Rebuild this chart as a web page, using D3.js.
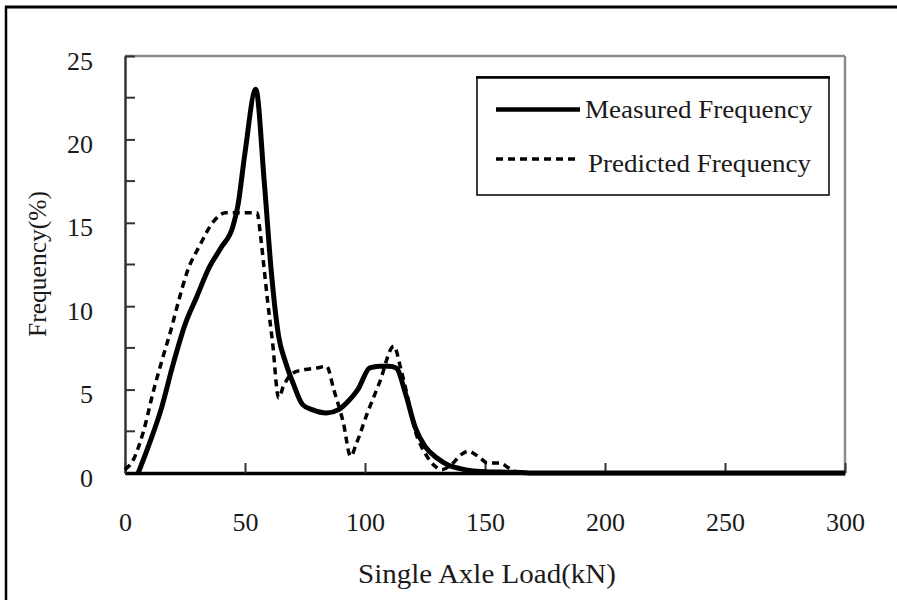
<!DOCTYPE html>
<html><head><meta charset="utf-8">
<script src="https://cdn.jsdelivr.net/npm/d3@7"></script>
<style>body{margin:0;background:#fff}svg{display:block}</style>
</head><body><svg id="c" width="897" height="600"></svg>
<script>
// ---- data ----
const measuredLoad = [5.5,10,15,20,25,30,35,40,45,47,50,54.5,58,61,64,67,70,74,78,84,89,93,97,102,106,110,113,117,121,125,130,135,140,145,150,160,165,170,200,250,300];
const measuredFreq = [0,1.7,3.8,6.5,8.9,10.6,12.3,13.5,14.8,16,19.2,23.0,17.5,12,8.2,6.6,5.4,4.1,3.8,3.6,3.8,4.3,5.0,6.3,6.4,6.4,6.3,4.7,2.7,1.6,0.9,0.45,0.25,0.12,0.08,0.05,0.03,0,0,0,0];
const predictedLoad = [0,3.5,7.5,12,15.5,19,22.5,26,31,37,42,48,55,56.5,58,59.5,61.5,64,66,70,75,80,84,87,91,94,96.5,101,106,112,115,118,121,125,128.5,132,136,140,143,148,151,156,160,165,200,250,300];
const predictedFreq = [0.2,0.8,2.4,5.0,6.8,8.5,10.4,12.1,13.6,15.1,15.6,15.6,15.6,14.2,12.2,10.2,7.8,4.5,5.2,6.0,6.2,6.3,6.4,5.0,3.0,1.0,1.8,3.6,5.4,7.6,6.2,4.4,2.5,1.2,0.5,0.2,0.5,1.1,1.3,0.9,0.6,0.6,0.3,0,0,0,0];
const xTickLabels = [0,50,100,150,200,250,300];
const yTickLabels = [0,5,10,15,20,25];
const yMinorTicks = [2.5,7.5,12.5,17.5,22.5];
const seriesNames = ["Measured Frequency","Predicted Frequency"];
const xTitle = "Single Axle Load(kN)";
const yTitle = "Frequency(%)";

// ---- drawing ----
const FONT = "'Liberation Serif','Times New Roman',serif";
const svg = d3.select('#c');
const x = d3.scaleLinear().domain([0,300]).range([125,845]);
const y = d3.scaleLinear().domain([0,25]).range([473,56]);

// outer frame (left & top)
svg.append('line').attr('x1',6).attr('x2',6).attr('y1',6).attr('y2',600).attr('stroke','#000').attr('stroke-width',2.5);
svg.append('line').attr('x1',5).attr('x2',897).attr('y1',7).attr('y2',7).attr('stroke','#000').attr('stroke-width',3);

// plot frame top & right (grey)
svg.append('line').attr('x1',x(0)).attr('x2',x(300)).attr('y1',y(25)).attr('y2',y(25)).attr('stroke','#8a8a8a').attr('stroke-width',2.5);
svg.append('line').attr('x1',x(300)).attr('x2',x(300)).attr('y1',y(25)).attr('y2',y(0)).attr('stroke','#8a8a8a').attr('stroke-width',2.5);

// y axis
const yAxis = svg.append('g').attr('transform',`translate(${x(0)},0)`)
  .call(d3.axisLeft(y).tickValues(yTickLabels).tickSizeInner(-10).tickSizeOuter(0).tickPadding(32).tickFormat(d3.format('d')));
yAxis.select('.domain').attr('stroke','#333').attr('stroke-width',2.5);
yAxis.selectAll('.tick line').attr('stroke','#333').attr('stroke-width',2);
yAxis.selectAll('text').attr('font-family',FONT).attr('font-size',26).attr('fill','#1a1a1a').attr('dy','0.5em');
svg.append('g').selectAll('line').data(yMinorTicks).join('line')
  .attr('x1',x(0)).attr('x2',x(0)+10).attr('y1',d=>y(d)).attr('y2',d=>y(d)).attr('stroke','#333').attr('stroke-width',2);

// x axis
const xAxis = svg.append('g').attr('transform',`translate(0,${y(0)})`)
  .call(d3.axisBottom(x).tickValues(xTickLabels).tickSizeInner(-10).tickSizeOuter(0).tickPadding(40).tickFormat(d3.format('d')));
xAxis.select('.domain').attr('stroke','#000').attr('stroke-width',3.5);
xAxis.selectAll('.tick line').attr('stroke','#333').attr('stroke-width',2);
xAxis.selectAll('text').attr('font-family',FONT).attr('font-size',26).attr('fill','#1a1a1a');

// lines
const measured = measuredLoad.map((v,i)=>[v,measuredFreq[i]]);
const predicted = predictedLoad.map((v,i)=>[v,predictedFreq[i]]);
const line = d3.line().x(d=>x(d[0])).y(d=>y(d[1])).curve(d3.curveMonotoneX);
svg.append('path').datum(predicted).attr('d',line).attr('fill','none')
  .attr('stroke','#000').attr('stroke-width',3.5).attr('stroke-dasharray','7,5');
svg.append('path').datum(measured).attr('d',line).attr('fill','none')
  .attr('stroke','#000').attr('stroke-width',5).attr('stroke-linejoin','round');

// titles
svg.append('text').attr('transform','translate(487,583) scale(1.075,1)').attr('text-anchor','middle')
  .attr('font-family',FONT).attr('font-size',27).attr('fill','#1a1a1a').text(xTitle);
svg.append('text').attr('transform','translate(46,264) rotate(-90)').attr('text-anchor','middle')
  .attr('font-family',FONT).attr('font-size',25.5).attr('fill','#1a1a1a').text(yTitle);

// legend
const lg = svg.append('g');
lg.append('rect').attr('x',477).attr('y',77).attr('width',352).attr('height',118)
  .attr('fill','#fff').attr('stroke','#000').attr('stroke-width',1.5);
lg.append('line').attr('x1',476).attr('x2',830).attr('y1',77.5).attr('y2',77.5).attr('stroke','#000').attr('stroke-width',2.5);
lg.append('line').attr('x1',496).attr('x2',580).attr('y1',109.5).attr('y2',109.5).attr('stroke','#000').attr('stroke-width',4.5);
lg.append('line').attr('x1',496).attr('x2',578).attr('y1',159).attr('y2',159).attr('stroke','#000').attr('stroke-width',3.5).attr('stroke-dasharray','7,5');
lg.append('text').attr('transform','translate(585,117.5) scale(1.04,1)').attr('font-family',FONT).attr('font-size',26).attr('fill','#1a1a1a').text(seriesNames[0]);
lg.append('text').attr('transform','translate(588,172) scale(1.04,1)').attr('font-family',FONT).attr('font-size',26).attr('fill','#1a1a1a').text(seriesNames[1]);
</script></body></html>
